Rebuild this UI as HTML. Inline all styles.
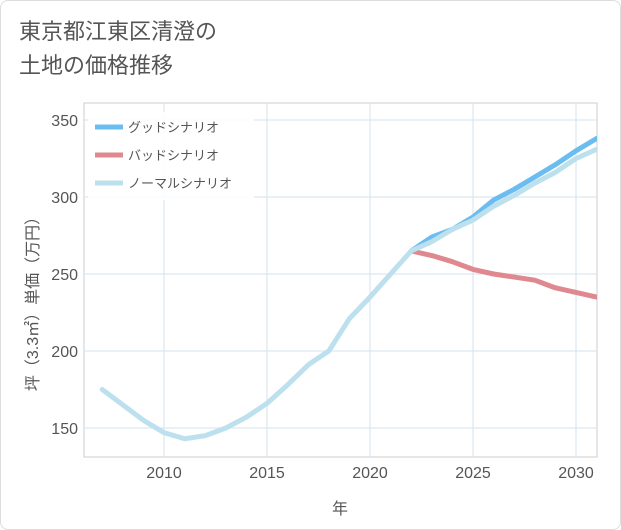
<!DOCTYPE html>
<html><head><meta charset="utf-8"><style>
body{margin:0;background:#fff;font-family:"Liberation Sans","Noto Sans CJK JP",sans-serif;}
#wrap{position:relative;width:619px;height:528px;border:1px solid #ddd;border-radius:8px;overflow:hidden;background:#fff}
#title{position:absolute;left:18px;top:14px;font-size:22px;line-height:34px;color:#555;}
</style></head><body>
<div id="wrap">
<div id="title">東京都江東区清澄の<br>土地の価格推移</div>
<svg id="chart" width="621" height="530" style="position:absolute;left:-1px;top:-1px"></svg>
</div>
<script>
const years=[2007,2008,2009,2010,2011,2012,2013,2014,2015,2016,2017,2018,2019,2020,2021,2022,2023,2024,2025,2026,2027,2028,2029,2030,2031];
const normal=[175,165,155,147,143,145,150,157,166,178,191,200,221,235,250,265,271,279,285,294,301,309,316,325,331];
const goodYears=[2022,2023,2024,2025,2026,2027,2028,2029,2030,2031];
const good=[265,274,279,287,298,305,313,321,330,338];
const bad=[265,262,258,253,250,248,246,241,238,235];
const xTicks=[2010,2015,2020,2025,2030];
const yTicks=[150,200,250,300,350];
const L=84,R=597,T=103,B=457;
const x=v=>164+(v-2010)*20.6;
const y=v=>120+(350-v)*77/50;
const svg=document.getElementById('chart');
const NS='http://www.w3.org/2000/svg';
function mk(t,a,p){const e=document.createElementNS(NS,t);for(const k in a)e.setAttribute(k,a[k]);(p||svg).appendChild(e);return e;}
let bg=mk('rect',{x:L,y:T,width:R-L,height:B-T,fill:'#fff',stroke:'#ccc'});


xTicks.forEach(t=>{
 let g=mk('line',{x1:x(t),x2:x(t),y1:T,y2:B,stroke:'#d5e3ec'});
 
 
 let tx=mk('text',{x:x(t),y:478,'text-anchor':'middle','font-size':16,fill:'#555'});tx.textContent=t;
 
 
});
yTicks.forEach(t=>{
 let g=mk('line',{x1:L,x2:R,y1:y(t),y2:y(t),stroke:'#d5e3ec'});
 
 
 let tx=mk('text',{x:78,y:y(t)+6,'text-anchor':'end','font-size':16,fill:'#555'});tx.textContent=t;
 
 
});
let xt=mk('text',{x:340,y:514,'text-anchor':'middle','font-size':16,fill:'#555'});xt.textContent='年';


let yt=mk('text',{x:0,y:0,'text-anchor':'middle','font-size':16,fill:'#555',transform:'translate(38,300) rotate(-90)'});yt.textContent='坪（3.3㎡）単価（万円）';


const clip=mk('clipPath',{id:'c'});mk('rect',{x:L,y:T,width:R-L,height:B-T},clip);
function line(xs,vs,c,name){
 let p=mk('polyline',{points:xs.map((v,i)=>x(v)+','+y(vs[i])).join(' '),fill:'none',stroke:c,'stroke-width':5,'stroke-linejoin':'round','stroke-linecap':'round','clip-path':'url(#c)'});
 
 
}
line(goodYears,good,'#6bbcf0','good-scenario-line');
line(goodYears,bad,'#e0888f','bad-scenario-line');
line(years,normal,'#bde0ee','normal-scenario-line');
const legend=[['グッドシナリオ','#6bbcf0'],['バッドシナリオ','#e0888f'],['ノーマルシナリオ','#bde0ee']];
let lg=mk('rect',{x:88,y:112,width:166,height:88,fill:'#fff','fill-opacity':0.85});


legend.forEach((l,i)=>{
 let yy=127+i*28;
 let s=mk('line',{x1:95,x2:123,y1:yy,y2:yy,stroke:l[1],'stroke-width':5});
 
 
 let t=mk('text',{x:128,y:yy+5,'font-size':13,fill:'#555'});t.textContent=l[0];
 
 
});
</script>
</body></html>
